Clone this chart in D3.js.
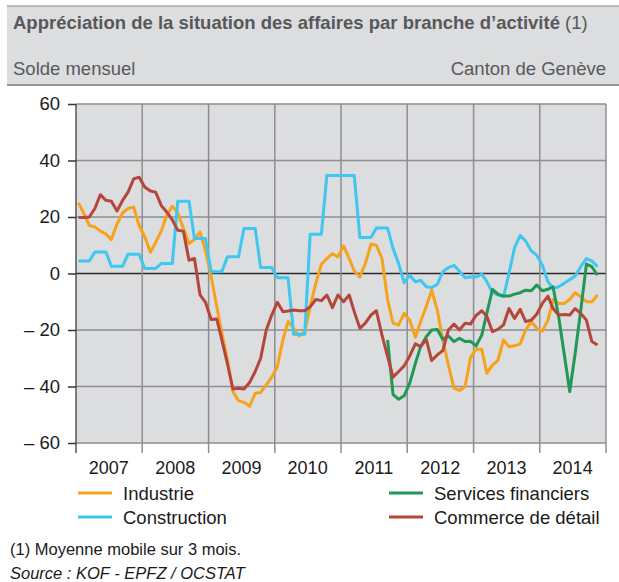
<!DOCTYPE html>
<html lang="fr">
<head>
<meta charset="UTF-8">
<title>Appréciation de la situation des affaires</title>
<script src="https://d3js.org/d3.v7.min.js"></script>
<style>
  body { margin: 0; background: #fff; }
  text { font-family: "Liberation Sans", Arial, sans-serif; }
</style>
</head>
<body>
<svg id="chart" width="619" height="582"></svg>
<script>
// valeurs mensuelles, janvier 2007 -> novembre 2014
const years = [2007, 2008, 2009, 2010, 2011, 2012, 2013, 2014];
const yTicks = [60, 40, 20, 0, -20, -40, -60];

const industrie = [25, 21, 17, 16.5, 15, 14, 12, 17.5, 21.5, 23, 23.5, 17,
  13, 7.5, 11, 15, 20.5, 23.8, 21.5, 16, 10.6, 12, 14.7, 8,
  -1, -11.8, -21, -30.6, -41.8, -45, -45.6, -47, -42.4, -42.1, -39.4, -36.7,
  -32.9, -23.5, -17, -19.4, -22.1, -20.6, -11.8, -3.5, 3.3, 5.3, 7, 5.9,
  9.8, 5.3, 0.9, -1.2, 3.5, 10.4, 10, 5.3, -9.4, -17.6, -18.2, -14.1,
  -16.5, -22.6, -17, -11.8, -5.9, -12.9, -23.5, -32.4, -40.6, -41.4, -40, -29.8,
  -26.7, -26.8, -35.3, -32.4, -30.8, -23.5, -25.9, -25.6, -24.9, -20, -17, -19.4,
  -20.4, -16.5, -9.2, -10.6, -10.6, -9.2, -6.8, -8.2, -10, -10, -7.6];

const construction = [4.4, 4.4, 4.4, 7.6, 7.6, 7.6, 2.6, 2.6, 2.6, 6.8, 6.8, 6.8,
  1.8, 1.8, 1.8, 3.5, 3.5, 3.5, 25.6, 25.6, 25.6, 12.4, 12.4, 12.4,
  0.6, 0.6, 0.6, 5.9, 5.9, 5.9, 15.9, 15.9, 15.9, 2.1, 2.1, 2.1,
  -1.5, -1.5, -1.5, -21.5, -21.5, -21.5, 13.9, 13.9, 13.9, 34.7, 34.7, 34.7,
  34.7, 34.7, 34.7, 12.7, 12.7, 12.7, 16.1, 16.1, 16.1, 8.8, 3.5, -3.3,
  -0.6, -2.9, -2.4, -4.7, -5, -3.8, 0.6, 2.1, 2.9, 0.8, -1.5, -1.2,
  -1.2, -0.2, -2.9, -6.8, -7.6, -8.2, 0, 9.2, 13.5, 11.5, 8, 6.5,
  2.9, -2.9, -5.3, -4.7, -3.5, -2.1, -0.9, 2.4, 5.3, 4.5, 2.4];

const services = [null, null, null, null, null, null, null, null, null, null, null, null,
  null, null, null, null, null, null, null, null, null, null, null, null,
  null, null, null, null, null, null, null, null, null, null, null, null,
  null, null, null, null, null, null, null, null, null, null, null, null,
  null, null, null, null, null, null, null, null, -23.5, -42.9, -44.5, -43.3,
  -38.8, -31.8, -25.9, -22.4, -20, -19.8, -23.3, -22.1, -24.1, -22.9, -24.1, -24,
  -25.6, -21.8, -14.1, -5.6, -7.3, -8, -8, -7.3, -6.8, -5.9, -6.1, -4.1,
  -6.1, -5.6, -4.7, -15.3, -28.2, -41.8, -28.2, -12.9, 3.3, 2.4, -0.6];

const commerce = [19.8, 19.8, 20, 23, 27.9, 25.9, 25.6, 22.1, 25.9, 28.8, 33.5, 34.1,
  30.6, 29.2, 28.8, 24.1, 21.8, 19, 15.3, 15, 4.7, 5.3, -7.6, -10.2,
  -16.3, -16.1, -23.5, -32, -40.9, -40.6, -40.9, -38.6, -34.7, -30, -20, -14.7,
  -10.2, -13.5, -13.3, -12.9, -13.2, -13.2, -11.8, -9.2, -9.6, -7.6, -12.1, -7.6,
  -10, -7.6, -13.5, -19.4, -17.6, -14.7, -13.2, -21.8, -29.4, -36.7, -34.7, -32.7,
  -29.2, -24.9, -25.9, -23.3, -30.8, -28.8, -27.3, -20, -17.9, -20, -17.6, -17.9,
  -14.8, -13.2, -15.1, -20.6, -19.8, -18.2, -12.4, -15.9, -12.7, -17, -16.5, -14.4,
  -10.6, -8, -12.4, -14.7, -14.5, -14.7, -12.4, -14.1, -16.5, -24.1, -25.3];

const series = [
  { name: "Industrie", values: industrie, color: "#f7a21b" },
  { name: "Construction", values: construction, color: "#3ec7f1" },
  { name: "Services financiers", values: services, color: "#1f9858" },
  { name: "Commerce de détail", values: commerce, color: "#b5463a" }
];

const svg = d3.select("#chart");
const plotLeft = 76, plotRight = 606, plotTop = 104, plotBottom = 443;

const x = d3.scaleTime()
  .domain([new Date(2007, 0, 1), new Date(2015, 0, 1)])
  .range([plotLeft, plotRight]);
const y = d3.scaleLinear().domain([-60, 60]).range([plotBottom, plotTop]);

const dateOf = i => new Date(2007, i, 15);

// bandeau du titre
svg.append("rect").attr("x", 7).attr("y", 6).attr("width", 612).attr("height", 79)
  .attr("fill", "#dcdddf");
svg.append("line").attr("x1", 7).attr("x2", 619).attr("y1", 6).attr("y2", 6)
  .attr("stroke", "#a9a9ab").attr("stroke-width", 1.5);
svg.append("line").attr("x1", 7).attr("x2", 619).attr("y1", 85).attr("y2", 85)
  .attr("stroke", "#77777a").attr("stroke-width", 1.5);

const title = svg.append("text").attr("x", 13).attr("y", 29)
  .attr("font-size", 18.5).attr("fill", "#58585a");
title.append("tspan").attr("font-weight", "bold").text("Appréciation de la situation des affaires par branche d’activité");
title.append("tspan").text(" (1)");

svg.append("text").attr("x", 13).attr("y", 75).attr("font-size", 18.5)
  .attr("fill", "#58585a").text("Solde mensuel");
svg.append("text").attr("x", 606).attr("y", 75).attr("font-size", 18.5)
  .attr("text-anchor", "end").attr("fill", "#58585a").text("Canton de Genève");

// zone du graphique
svg.append("rect").attr("x", plotLeft).attr("y", plotTop)
  .attr("width", plotRight - plotLeft).attr("height", plotBottom - plotTop).attr("fill", "#dcdddf");

// grille horizontale
svg.append("g").selectAll("line").data(yTicks).join("line")
  .attr("x1", plotLeft).attr("x2", plotRight)
  .attr("y1", d => y(d)).attr("y2", d => y(d))
  .attr("stroke", d => d === 0 ? "#2a2a2a" : "#8e8e90")
  .attr("stroke-width", 1.5);

// grille verticale + graduations années
const yearEdges = years.map(d => new Date(d, 0, 1)).concat([new Date(2015, 0, 1)]);
svg.append("g").selectAll("line").data(yearEdges).join("line")
  .attr("x1", d => x(d)).attr("x2", d => x(d))
  .attr("y1", plotTop).attr("y2", plotBottom + 10)
  .attr("stroke", (d, i) => i === 0 ? "#555" : "#8e8e90")
  .attr("stroke-width", 1.5);

// axe Y
const yAxis = d3.axisLeft(y).tickValues(yTicks).tickSize(8).tickPadding(8)
  .tickFormat(d => d < 0 ? "– " + Math.abs(d) : d);
const gy = svg.append("g").attr("transform", `translate(${plotLeft},0)`).call(yAxis);
gy.select(".domain").remove();
gy.selectAll(".tick line").attr("stroke", "#333").attr("stroke-width", 1.5);
gy.selectAll(".tick text").attr("font-size", 18.5).attr("fill", "#1a1a1a")
  .attr("font-family", "Liberation Sans, Arial, sans-serif");

// libellés années
svg.append("g").selectAll("text").data(years).join("text")
  .attr("x", d => x(new Date(d, 6, 1)))
  .attr("y", 474).attr("text-anchor", "middle")
  .attr("font-size", 18).attr("fill", "#1a1a1a").text(d => d);

// courbes
const line = d3.line()
  .defined(d => d != null)
  .x((d, i) => x(dateOf(i)))
  .y(d => y(d));

svg.append("g").selectAll("path").data(series).join("path")
  .attr("d", d => line(d.values))
  .attr("fill", "none")
  .attr("stroke", d => d.color)
  .attr("stroke-width", 3)
  .attr("stroke-linejoin", "round");

// légende
const legendPos = [
  { s: series[0], x: 78, y: 493 },
  { s: series[1], x: 78, y: 517 },
  { s: series[2], x: 389, y: 493 },
  { s: series[3], x: 389, y: 517 }
];
const lg = svg.append("g").selectAll("g").data(legendPos).join("g")
  .attr("transform", d => `translate(${d.x},${d.y})`);
lg.append("line").attr("x1", 0).attr("x2", 34).attr("y1", 0).attr("y2", 0)
  .attr("stroke", d => d.s.color).attr("stroke-width", 3);
lg.append("text").attr("x", 45).attr("y", 6.5).attr("font-size", 18.5)
  .attr("fill", "#1a1a1a").text(d => d.s.name);

// notes
svg.append("text").attr("x", 10).attr("y", 555).attr("font-size", 16.5)
  .attr("fill", "#1a1a1a").text("(1) Moyenne mobile sur 3 mois.");
svg.append("text").attr("x", 10).attr("y", 579).attr("font-size", 16.5)
  .attr("font-style", "italic").attr("fill", "#1a1a1a").text("Source : KOF - EPFZ / OCSTAT");
</script>
</body>
</html>
